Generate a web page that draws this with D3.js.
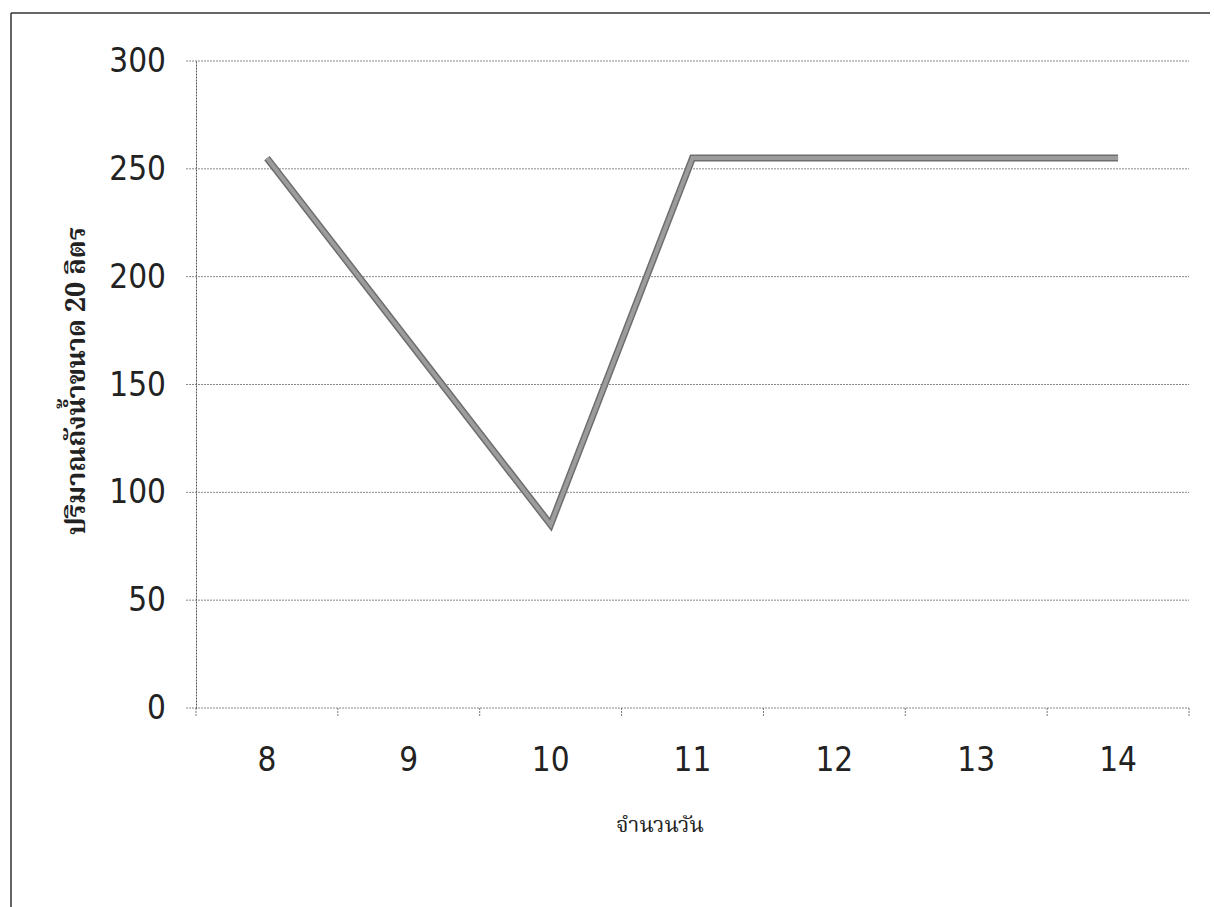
<!DOCTYPE html>
<html>
<head>
<meta charset="utf-8">
<style>
  body { margin: 0; background: #fff; }
  .tick text { font-family: "Liberation Sans Narrow", "DejaVu Sans Condensed", "Open Sans", sans-serif; fill: #222; }
</style>
</head>
<body>
<script src="https://cdn.jsdelivr.net/npm/d3@7"></script>
<script>
var days = ["8", "9", "10", "11", "12", "13", "14"];
var tanks = [255, 170, 85, 255, 255, 255, 255];
var yTicks = [0, 50, 100, 150, 200, 250, 300];

var width = 1214, height = 907;
var svg = d3.select("body").append("svg")
    .attr("width", width).attr("height", height);

// frame (only left and top edges show in the scan)
svg.append("line").attr("x1", 11).attr("y1", 13).attr("x2", 1210).attr("y2", 13)
    .attr("stroke", "#333").attr("stroke-width", 1.5);
svg.append("line").attr("x1", 11).attr("y1", 13).attr("x2", 11).attr("y2", 907)
    .attr("stroke", "#333").attr("stroke-width", 1.5);

var plotL = 196, plotR = 1189, plotT = 61, plotB = 708;

var x = d3.scaleBand().domain(days).range([plotL, plotR]);
var y = d3.scaleLinear().domain([0, 300]).range([plotB, plotT]);

// gridlines
svg.append("g")
    .selectAll("line").data(yTicks).enter().append("line")
    .attr("x1", plotL - 10).attr("x2", plotR)
    .attr("y1", function(d) { return y(d); })
    .attr("y2", function(d) { return y(d); })
    .attr("stroke", "#888").attr("stroke-width", 1)
    .attr("stroke-dasharray", "2,1");

// y axis
var yAxis = svg.append("g")
    .attr("transform", "translate(" + plotL + ",0)")
    .call(d3.axisLeft(y).tickValues(yTicks).tickSize(0).tickPadding(30));
yAxis.select(".domain").attr("stroke", "#555").attr("stroke-dasharray", "2,1");
yAxis.selectAll(".tick text").attr("font-size", 33);

// x axis
var xAxis = svg.append("g")
    .attr("transform", "translate(0," + plotB + ")")
    .call(d3.axisBottom(x).tickSize(0).tickPadding(40));
xAxis.select(".domain").remove();
xAxis.selectAll(".tick text").attr("font-size", 33);
svg.append("g").selectAll("line")
    .data(days.concat(["end"])).enter().append("line")
    .attr("x1", function(d, i) { return plotL + i * x.step(); })
    .attr("x2", function(d, i) { return plotL + i * x.step(); })
    .attr("y1", plotB).attr("y2", plotB + 9)
    .attr("stroke", "#777").attr("stroke-width", 1)
    .attr("stroke-dasharray", "2,1");

// series line
var line = d3.line()
    .x(function(d, i) { return x(days[i]) + x.bandwidth() / 2; })
    .y(function(d) { return y(d); });
svg.append("path").datum(tanks)
    .attr("d", line)
    .attr("fill", "none")
    .attr("stroke", "#6e6e6e").attr("stroke-width", 7)
    .attr("stroke-linejoin", "miter");
svg.append("path").datum(tanks)
    .attr("d", line)
    .attr("fill", "none")
    .attr("stroke", "#9c9c9c").attr("stroke-width", 4)
    .attr("stroke-linejoin", "miter");

// axis titles
svg.append("text")
    .attr("x", 660).attr("y", 832)
    .attr("text-anchor", "middle")
    .attr("font-family", "'Noto Serif Thai', 'Noto Sans Thai', 'Liberation Serif', serif")
    .attr("font-size", 22).attr("fill", "#222")
    .text("จำนวนวัน");

svg.append("text")
    .attr("transform", "translate(85,381) rotate(-90)")
    .attr("text-anchor", "middle")
    .attr("font-family", "'Noto Serif Thai', 'Noto Sans Thai', 'Liberation Serif', serif")
    .attr("font-size", 27).attr("font-weight", "bold").attr("fill", "#222")
    .text("ปริมาณถังน้ำขนาด 20 ลิตร");
</script>
</body>
</html>
